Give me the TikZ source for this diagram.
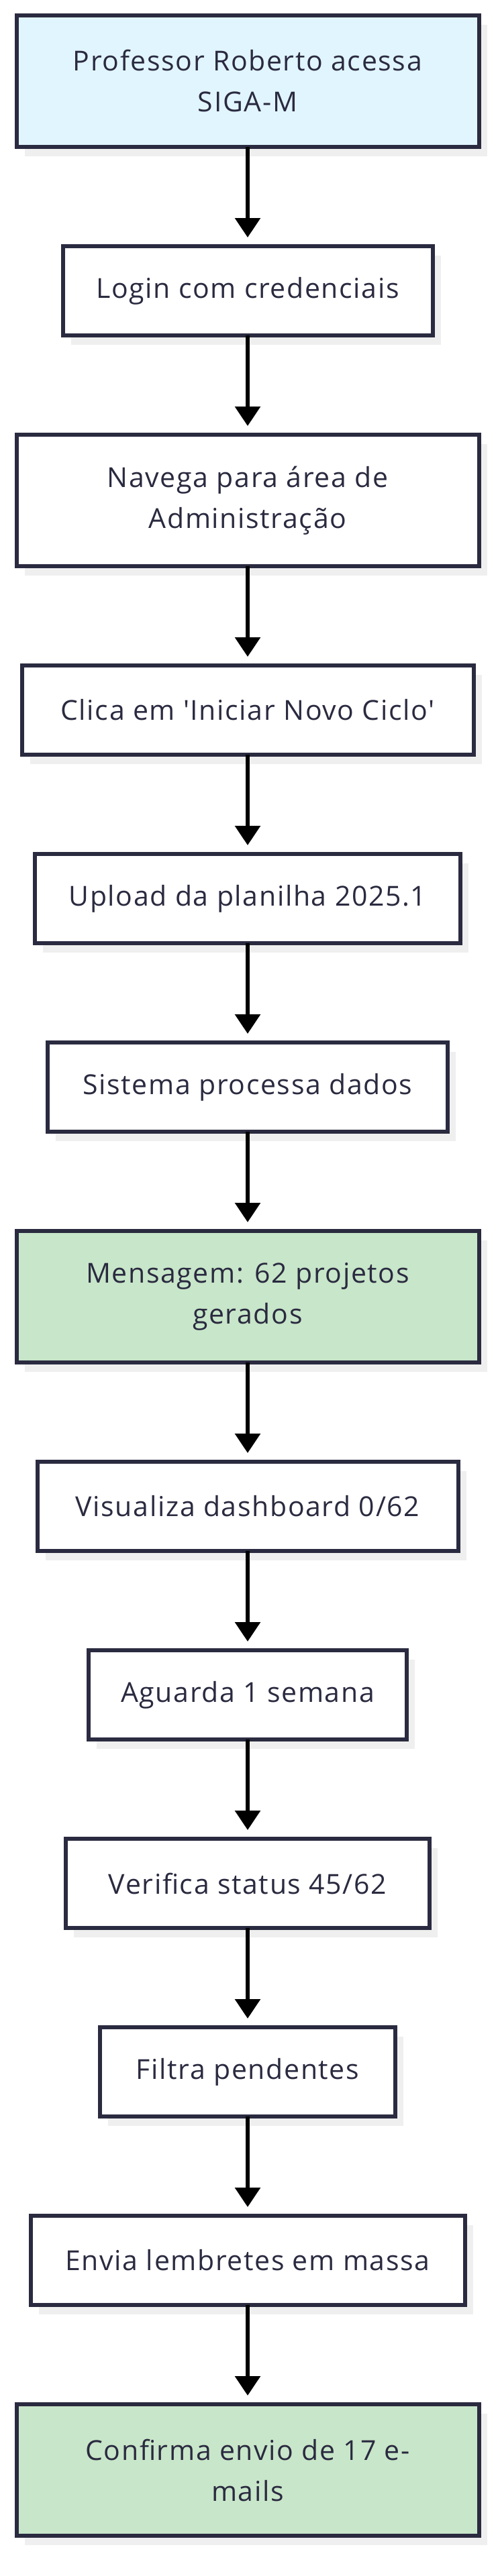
\documentclass[tikz,border=0pt]{standalone}
\usepackage{fontspec}
\setmainfont{Open Sans}[Ligatures=TeXOff,LetterSpace=4]
\usetikzlibrary{positioning,arrows.meta,shadows}
\definecolor{inkline}{RGB}{42,42,64}
\definecolor{startfill}{RGB}{225,245,254}
\definecolor{donefill}{RGB}{200,230,201}
\definecolor{shadowgray}{RGB}{239,239,239}
\tikzset{stepbox/.style={draw=inkline,line width=3pt,fill=white,text=inkline,inner sep=0pt,outer sep=0pt,
    align=center,minimum height=66.5pt,font=\fontsize{20.5pt}{30.5pt}\selectfont,
    drop shadow={shadow xshift=6pt,shadow yshift=-7pt,fill=shadowgray,opacity=1}},
  twoline/.style={minimum height=98pt},
  flow/.style={line width=3pt,-{Triangle[width=18.5pt,length=14.5pt]},shorten >=6.5pt}}

\begin{document}
\begin{tikzpicture}
        \useasboundingbox (0,0) rectangle (370.5pt,-1920pt);
        \node[stepbox,fill=startfill,twoline,minimum width=344.5pt] (acesso) at (184.5pt,-60.5pt) {Professor Roberto acessa\\SIGA-M};
        \node[stepbox,minimum width=275.5pt,below=74pt of acesso] (login) {Login com credenciais};
        \node[stepbox,twoline,minimum width=344.5pt,below=74pt of login] (navega) {Navega para área de\\Administração};
        \node[stepbox,minimum width=336.5pt,below=74pt of navega] (clica) {Clica em 'Iniciar Novo Ciclo'};
        \node[stepbox,minimum width=317pt,below=74pt of clica] (upload) {Upload da planilha 2025.1};
        \node[stepbox,minimum width=298pt,below=74pt of upload] (processa) {Sistema processa dados};
        \node[stepbox,fill=donefill,twoline,minimum width=344.5pt,below=74pt of processa] (mensagem) {Mensagem: 62 projetos\\gerados};
        \node[stepbox,minimum width=313.5pt,below=74pt of mensagem] (dashboard) {Visualiza dashboard 0/62};
        \node[stepbox,minimum width=237pt,below=74pt of dashboard] (aguarda) {Aguarda 1 semana};
        \node[stepbox,minimum width=271pt,below=74pt of aguarda] (verifica) {Verifica status 45/62};
        \node[stepbox,minimum width=220pt,below=74pt of verifica] (filtra) {Filtra pendentes};
        \node[stepbox,minimum width=323.5pt,below=74pt of filtra] (envia) {Envia lembretes em massa};
        \node[stepbox,fill=donefill,twoline,minimum width=344.5pt,below=74pt of envia] (confirma) {Confirma envio de 17 e-\\mails};
        \draw[flow] (acesso) -- (login);
        \draw[flow] (login) -- (navega);
        \draw[flow] (navega) -- (clica);
        \draw[flow] (clica) -- (upload);
        \draw[flow] (upload) -- (processa);
        \draw[flow] (processa) -- (mensagem);
        \draw[flow] (mensagem) -- (dashboard);
        \draw[flow] (dashboard) -- (aguarda);
        \draw[flow] (aguarda) -- (verifica);
        \draw[flow] (verifica) -- (filtra);
        \draw[flow] (filtra) -- (envia);
        \draw[flow] (envia) -- (confirma);
\end{tikzpicture}
\end{document}
